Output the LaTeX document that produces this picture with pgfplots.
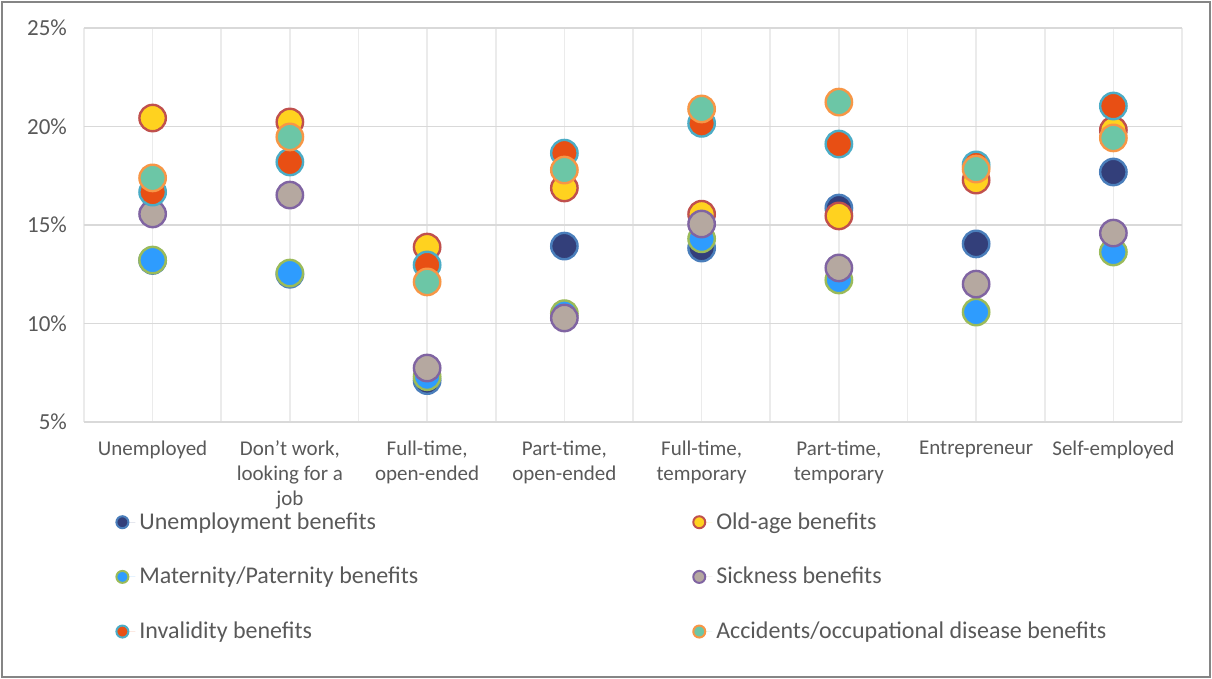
\documentclass[border=0pt]{standalone}
\usepackage{fontspec}
\setmainfont{Carlito}
\usepackage{pgfplots}
\pgfplotsset{compat=1.18}
\definecolor{unF}{HTML}{333F7A}\definecolor{unE}{HTML}{4A7EBB}
\definecolor{oaF}{HTML}{FFD21F}\definecolor{oaE}{HTML}{C0504D}
\definecolor{maF}{HTML}{2E9CFE}\definecolor{maE}{HTML}{9BBB59}
\definecolor{siF}{HTML}{B5A8A0}\definecolor{siE}{HTML}{8064A2}
\definecolor{inF}{HTML}{E84F14}\definecolor{inE}{HTML}{4BACC6}
\definecolor{acF}{HTML}{6CC6A6}\definecolor{acE}{HTML}{F79646}
\definecolor{gridc}{HTML}{D9D9D9}
\definecolor{vgridc}{HTML}{EBEBEB}
\definecolor{txt}{HTML}{595959}
\begin{document}
\begin{tikzpicture}
\begin{axis}[
  at={(0,0)}, anchor=south west,
  scale only axis, width=549pt, height=197pt,
  xmin=0.5, xmax=8.5, ymin=5, ymax=25,
  xtick={1,...,8},
  xticklabels={Unemployed, {Don't work,\\looking for a\\job}, {Full-time,\\open-ended}, {Part-time,\\open-ended}, {Full-time,\\temporary}, {Part-time,\\temporary}, Entrepreneur, Self-employed},
  minor xtick={0.5,1.5,...,8.5},
  ytick={5,10,15,20,25},
  yticklabels={5\%,10\%,15\%,20\%,25\%},
  xmajorgrids, xminorgrids, ymajorgrids,
  x grid style={vgridc, line width=0.8pt},
  minor x grid style={vgridc, line width=0.8pt},
  y grid style={gridc, line width=0.9pt},
  axis line style={draw=none},
  major tick length=0pt, minor tick length=0pt,
  tick style={draw=none},
  xticklabel style={font=\fontsize{10.5}{12.4}\selectfont, text=txt, align=center, anchor=north, yshift=-6pt},
  yticklabel style={font=\fontsize{11.5}{13}\selectfont, text=txt, xshift=-5pt},
  /pgf/number format/assume math mode=true,
  only marks,
  every axis plot/.append style={mark=*, mark size=6.6pt, line width=1.2pt},
  legend columns=2,
  legend cell align=left,
  legend image code/.code={\path[draw=none] (-3.5pt,0pt) -- (6.5pt,0pt);\draw[mark size=3pt, line width=1pt] plot coordinates {(0pt,0pt)};},
  legend style={draw=none, fill=none, at={(0,0)}, anchor=north west, xshift=12.5pt, yshift=-41pt,
    font=\fontsize{12}{14}\selectfont, text=txt, row sep=13.5pt,
    /tikz/column 2/.style={column sep=135pt}},
  clip=false,
]
\addplot[draw=unE, fill=unF] table {
x y
1 13.2
2 12.5
3 7.1
4 13.93
5 13.83
6 15.86
7 14.04
8 17.69
};
\addlegendentry{Unemployment benefits}
\addplot[draw=oaE, fill=oaF] table {
x y
1 20.43
2 20.23
3 13.88
4 16.88
5 15.55
6 15.46
7 17.28
8 19.82
};
\addlegendentry{Old-age benefits}
\addplot[draw=maE, fill=maF] table {
x y
1 13.22
2 12.56
3 7.3
4 10.5
5 14.3
6 12.21
7 10.58
8 13.63
};
\addlegendentry{Maternity/Paternity benefits}
\addplot[draw=siE, fill=siF] table {
x y
1 15.56
2 16.52
3 7.74
4 10.28
5 15.05
6 12.82
7 12.0
8 14.59
};
\addlegendentry{Sickness benefits}
\addplot[draw=inE, fill=inF] table {
x y
1 16.67
2 18.2
3 12.97
4 18.65
5 20.16
6 19.11
7 18.05
8 21.04
};
\addlegendentry{Invalidity benefits}
\addplot[draw=acE, fill=acF] table {
x y
1 17.39
2 19.47
3 12.11
4 17.79
5 20.89
6 21.24
7 17.84
8 19.42
};
\addlegendentry{Accidents/occupational disease benefits}
\end{axis}
\useasboundingbox (-42pt,-128.5pt) rectangle (564pt,211pt);
\draw[color=black!48, line width=1pt] (-41pt,-127.5pt) rectangle (563pt,210pt);
\end{tikzpicture}
\end{document}
